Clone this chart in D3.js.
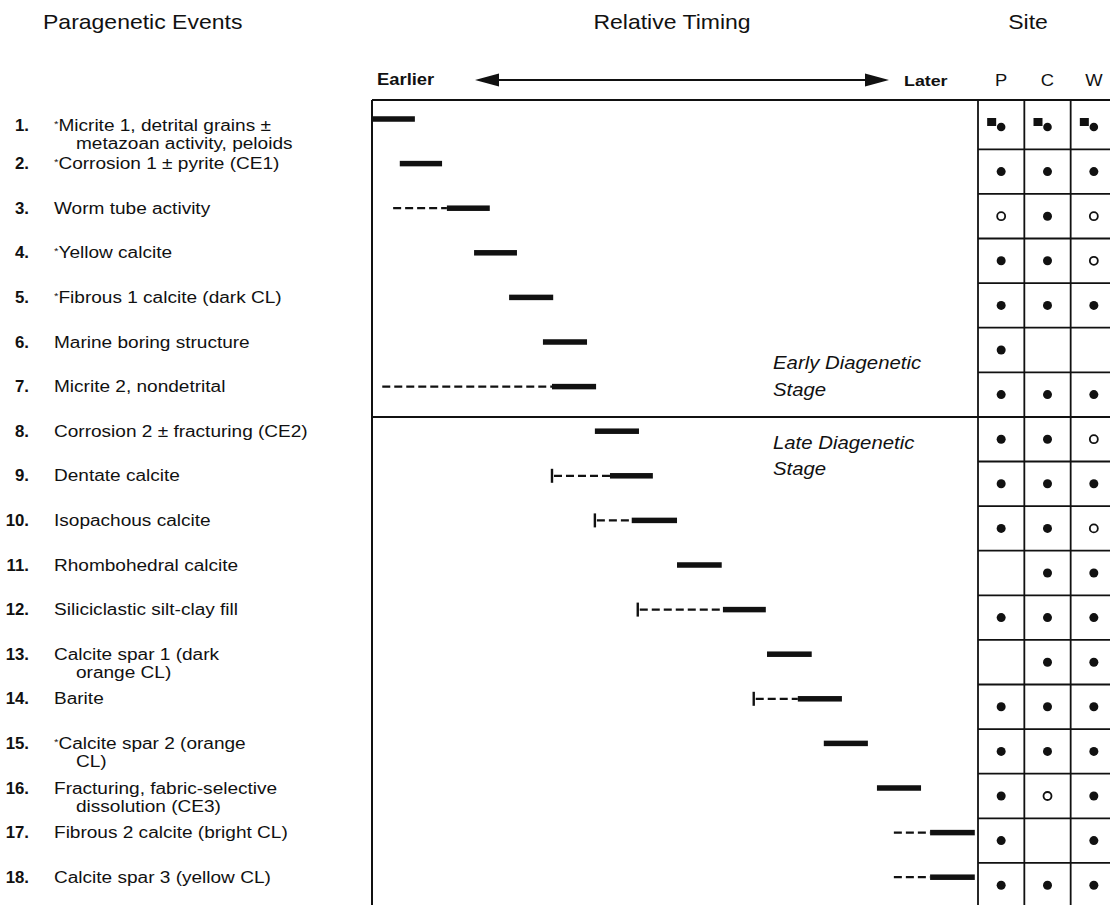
<!DOCTYPE html>
<html>
<head>
<meta charset="utf-8">
<script src="https://cdn.jsdelivr.net/npm/d3@7"></script>
<style>
  body { margin: 0; background: #fff; }
  text { font-family: "Liberation Sans", Arial, sans-serif; fill: #111; }
</style>
</head>
<body>
<svg id="chart"></svg>
<script>
// events, one entry per row (second string = wrapped line)
var eventLabels = [
  ['*Micrite 1, detrital grains \u00b1', 'metazoan activity, peloids'],
  ['*Corrosion 1 \u00b1 pyrite (CE1)'],
  ['Worm tube activity'],
  ['*Yellow calcite'],
  ['*Fibrous 1 calcite (dark CL)'],
  ['Marine boring structure'],
  ['Micrite 2, nondetrital'],
  ['Corrosion 2 \u00b1 fracturing (CE2)'],
  ['Dentate calcite'],
  ['Isopachous calcite'],
  ['Rhombohedral calcite'],
  ['Siliciclastic silt-clay fill'],
  ['Calcite spar 1 (dark', 'orange CL)'],
  ['Barite'],
  ['*Calcite spar 2 (orange', 'CL)'],
  ['Fracturing, fabric-selective', 'dissolution (CE3)'],
  ['Fibrous 2 calcite (bright CL)'],
  ['Calcite spar 3 (yellow CL)']
];

// relative timing, 0 = earliest, 100 = latest
var solidStart = [0, 4.6, 12.4, 16.9, 22.7, 28.3, 29.8, 36.9, 39.4, 43.0, 50.5, 58.1, 65.4, 70.5, 74.8, 83.6, 92.4, 92.4];
var solidEnd   = [7.1, 11.6, 19.5, 24.0, 30.0, 35.6, 37.1, 44.2, 46.5, 50.5, 57.9, 65.2, 72.8, 77.8, 82.1, 90.9, 99.8, 99.8];
var dashStart  = [null, null, 3.5, null, null, null, 1.7, null, 29.8, 36.9, null, 44.0, null, 63.2, null, null, 86.4, 86.4];
var hasTick    = [0, 0, 0, 0, 0, 0, 0, 0, 1, 1, 0, 1, 0, 1, 0, 0, 0, 0];

// site occurrence: f = present, o = open circle, sq = square + dot, '' = none
var sites = ['P', 'C', 'W'];
var siteP = ['sq','f','o','f','f','f','f','f','f','f','', 'f','', 'f','f','f','f','f'];
var siteC = ['sq','f','f','f','f','', 'f','f','f','f','f','f','f','f','f','o','', 'f'];
var siteW = ['sq','f','o','o','f','', 'f','o','f','o','f','f','f','f','f','f','f','f'];

var stages = [['Early Diagenetic', 'Stage'], ['Late Diagenetic', 'Stage']];

var w = 1110;
var h = 905;
var stretch = 1.15;

var svg = d3.select('#chart')
            .attr('width', w)
            .attr('height', h);

var rows = d3.range(1, eventLabels.length + 1);

var y = d3.scaleBand()
          .domain(rows)
          .range([104.7, 907.5]);

var x = d3.scaleLinear()
          .domain([0, 100])
          .range([372, 976]);

var xs = d3.scaleBand()
           .domain(sites)
           .range([978, 1117]);

var rowMid = function(i){ return y(i) + y.bandwidth() / 2; };

// helper for the slightly wide scanned lettering
var addText = function(g, str, tx, ty, size, opts){
  opts = opts || {};
  var t = g.append('text')
           .attr('transform', 'translate(' + tx + ',' + ty + ') scale(' + (opts.sx || stretch) + ',1)')
           .style('font-size', size + 'px');
  if (str.charAt(0) === '*'){
    // footnote mark, small and raised
    t.append('tspan').style('font-size', (size * 0.6) + 'px').attr('dy', -4).text('*');
    t.append('tspan').attr('dy', 4).text(str.slice(1));
  } else {
    t.text(str);
  }
  if (opts.anchor) t.attr('text-anchor', opts.anchor);
  if (opts.weight) t.style('font-weight', opts.weight);
  if (opts.italic) t.style('font-style', 'italic');
  return t;
};

// headers
var head = svg.append('g');
addText(head, 'Paragenetic Events', 43, 29, 20);
addText(head, 'Relative Timing', 672, 29, 20, {anchor: 'middle'});
addText(head, 'Site', 1028, 29, 20, {anchor: 'middle'});
addText(head, 'Earlier', 377, 85, 16, {weight: 'bold'});
addText(head, 'Later', 904, 86, 15.5, {weight: 'bold'});
sites.forEach(function(s){
  addText(head, s, xs(s) + xs.bandwidth() / 2, 86, 16, {anchor: 'middle'});
});

// timing arrow
head.append('line')
    .attr('x1', 490).attr('x2', 872)
    .attr('y1', 80).attr('y2', 80)
    .attr('stroke', '#111').attr('stroke-width', 2);
head.append('path')
    .attr('d', 'M475,80 L499,73.5 L499,86.5 Z')
    .attr('fill', '#111');
head.append('path')
    .attr('d', 'M889,80 L865,73.5 L865,86.5 Z')
    .attr('fill', '#111');

// frame
var frame = svg.append('g')
               .attr('stroke', '#111')
               .attr('fill', 'none');
frame.append('line')
     .attr('x1', x(0)).attr('x2', w)
     .attr('y1', 100).attr('y2', 100)
     .attr('stroke-width', 2);
frame.append('line')
     .attr('x1', x(0)).attr('x2', x(0))
     .attr('y1', 100).attr('y2', h)
     .attr('stroke-width', 2);
frame.append('line')
     .attr('x1', x(0)).attr('x2', w)
     .attr('y1', y(8)).attr('y2', y(8))
     .attr('stroke-width', 2);

// site grid
frame.selectAll('.hgrid')
     .data(rows.slice(1))
     .enter()
     .append('line')
     .attr('x1', xs('P')).attr('x2', w)
     .attr('y1', function(d){ return y(d); })
     .attr('y2', function(d){ return y(d); })
     .attr('stroke-width', 1.8);
frame.selectAll('.vgrid')
     .data(sites)
     .enter()
     .append('line')
     .attr('x1', function(d){ return xs(d); })
     .attr('x2', function(d){ return xs(d); })
     .attr('y1', 100).attr('y2', h)
     .attr('stroke-width', 1.8);

// event labels
var barOffset = -8;
var labelSize = 16;
var lineGap = 18;
var labels = svg.append('g');
eventLabels.forEach(function(lines, k){
  var i = k + 1;
  // first row is taller, its text sits a little lower
  var mid = i === 1 ? rowMid(i) - 2 : rowMid(i) + barOffset;
  var base = mid + labelSize * 0.35;
  addText(labels, i + '.', 29, base, 16, {anchor: 'end', weight: 'bold', sx: 1.05});
  lines.forEach(function(line, j){
    addText(labels, line, j === 0 ? 54 : 76, base + j * lineGap, labelSize, {sx: 1.19});
  });
});

// stage labels
var st = svg.append('g');
addText(st, stages[0][0], 773, y(8) - 48, 18.5, {italic: true, sx: 1.1});
addText(st, stages[0][1], 773, y(8) - 21, 18.5, {italic: true, sx: 1.1});
addText(st, stages[1][0], 773, y(8) + 32, 18.5, {italic: true, sx: 1.1});
addText(st, stages[1][1], 773, y(8) + 58, 18.5, {italic: true, sx: 1.1});

// timing bars
var bars = svg.append('g');

bars.selectAll('.solid')
    .data(rows)
    .enter()
    .append('rect')
    .attr('x', function(d){ return x(solidStart[d - 1]); })
    .attr('width', function(d){ return x(solidEnd[d - 1]) - x(solidStart[d - 1]); })
    .attr('y', function(d){ return rowMid(d) + barOffset - 2.75; })
    .attr('height', 5.5)
    .attr('fill', '#111');

var dashed = rows.filter(function(d){ return dashStart[d - 1] !== null; });

bars.selectAll('.dash')
    .data(dashed)
    .enter()
    .append('line')
    .attr('x1', function(d){ return x(dashStart[d - 1]) + (hasTick[d - 1] ? 2 : 0); })
    .attr('x2', function(d){ return x(solidStart[d - 1]); })
    .attr('y1', function(d){ return rowMid(d) + barOffset; })
    .attr('y2', function(d){ return rowMid(d) + barOffset; })
    .attr('stroke', '#111')
    .attr('stroke-width', 2.2)
    .attr('stroke-dasharray', '8,4');

bars.selectAll('.tick')
    .data(dashed.filter(function(d){ return hasTick[d - 1]; }))
    .enter()
    .append('line')
    .attr('x1', function(d){ return x(dashStart[d - 1]); })
    .attr('x2', function(d){ return x(dashStart[d - 1]); })
    .attr('y1', function(d){ return rowMid(d) + barOffset - 7; })
    .attr('y2', function(d){ return rowMid(d) + barOffset + 7; })
    .attr('stroke', '#111')
    .attr('stroke-width', 2.4);

// site symbols
var siteData = [];
[siteP, siteC, siteW].forEach(function(col, c){
  col.forEach(function(v, k){
    if (v) siteData.push({site: sites[c], row: k + 1, kind: v});
  });
});

var marks = svg.append('g');
siteData.forEach(function(d){
  var cx = xs(d.site) + xs.bandwidth() / 2;
  var cy = rowMid(d.row);
  if (d.kind === 'sq'){
    marks.append('rect')
         .attr('x', cx - 14).attr('y', cy - 9)
         .attr('width', 9).attr('height', 8)
         .attr('fill', '#111');
    marks.append('circle')
         .attr('cx', cx).attr('cy', cy).attr('r', 4.3)
         .attr('fill', '#111');
  } else if (d.kind === 'f'){
    marks.append('circle')
         .attr('cx', cx).attr('cy', cy).attr('r', 4.5)
         .attr('fill', '#111');
  } else {
    marks.append('circle')
         .attr('cx', cx).attr('cy', cy).attr('r', 4)
         .attr('fill', '#fff')
         .attr('stroke', '#111')
         .attr('stroke-width', 1.8);
  }
});
</script>
</body>
</html>
